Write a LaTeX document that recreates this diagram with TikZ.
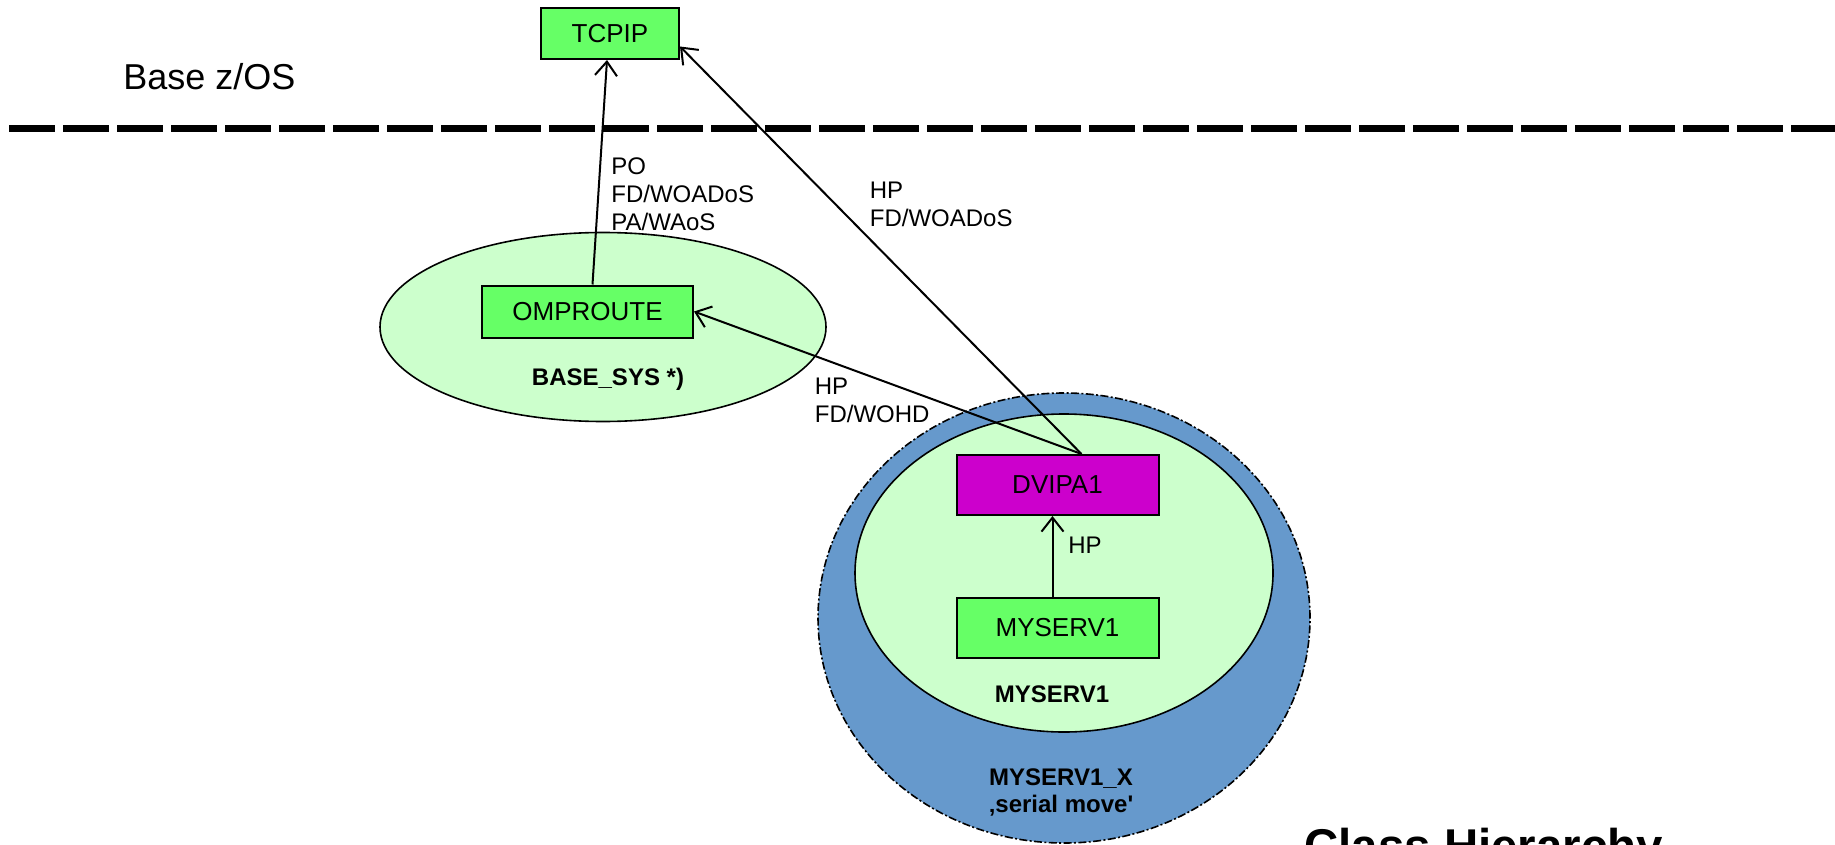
\documentclass[tikz,border=0pt]{standalone}
\usepackage{fontspec}
\setmainfont{Liberation Sans}
\usetikzlibrary{arrows.meta}
\definecolor{boxgreen}{RGB}{102,255,102}
\definecolor{palegreen}{RGB}{204,255,204}
\definecolor{dvmagenta}{RGB}{204,0,204}
\definecolor{movblue}{RGB}{102,153,204}
\tikzset{
  box/.style={draw, line width=1pt, fill=boxgreen, inner sep=0pt, font=\fontsize{13}{15}\selectfont},
  lbl/.style={anchor=north west, inner sep=0pt, align=left, font=\fontsize{12}{14}\selectfont},
  bold/.style={inner sep=0pt, align=center, font=\fontsize{12}{13.5}\selectfont\bfseries},
  arr/.style={line width=1pt, -{Straight Barb[length=7pt,width=11pt]}},
  rim/.style={line width=0.8pt},
}
\begin{document}
\begin{tikzpicture}[x=0.5pt,y=-0.5pt]
        \useasboundingbox (0,0) rectangle (1835,845);
        \draw[line width=3.5pt, dash pattern=on 23pt off 4pt] (9,129) -- (1835,129);
        \node[anchor=north west, inner sep=0pt, font=\fontsize{18}{20}\selectfont] (Z) at (123,63) {Base z/OS};

        \filldraw[rim, fill=palegreen] (603,327) ellipse (111.5pt and 47.25pt);
        \filldraw[rim, fill=movblue, dash pattern=on 4pt off 1.2pt on 1pt off 1.2pt] (1064,618) ellipse (123pt and 112.5pt);
        \filldraw[rim, fill=palegreen] (1064,573) ellipse (104.5pt and 79.5pt);

        \node[box, minimum width=69pt, minimum height=25.5pt] (T) at (610,33.5) {TCPIP};
        \node[box, minimum width=105.5pt, minimum height=26pt] (O) at (587.5,311.5) {OMPROUTE};
        \node[box, fill=dvmagenta, minimum width=101pt, minimum height=30pt] (D) at (1057.5,485) {DVIPA1};
        \node[box, minimum width=101pt, minimum height=30pt] (M) at (1057.5,628) {MYSERV1};

        \node[bold, anchor=base] (S) at (608,385) {BASE\_SYS *)};
        \node[bold, anchor=base] (N) at (1052,702) {MYSERV1};
        \node[bold, anchor=north] (X) at (1061,768) {MYSERV1\_X\\‚serial move\textquotesingle};

        \node[lbl] (L1) at (611,157) {PO\\FD/WOADoS\\PA/WAoS};
        \node[lbl] (L2) at (869.5,182) {HP\\FD/WOADoS};
        \node[lbl] (L3) at (814.5,378) {HP\\FD/WOHD};
        \node[lbl] (L4) at (1068,537) {HP};

        \draw[arr] ([xshift=2.5pt]O.north) -- ([xshift=-1.5pt]T.south);
        \draw[arr] ([xshift=12pt]D.north) -- ([yshift=-6.5pt]T.east);
        \draw[arr] ([xshift=12pt]D.north) -- (O.east);
        \draw[arr] ([xshift=-2.5pt]M.north) -- ([xshift=-2.5pt]D.south);

        \node[anchor=north west, inner sep=0pt, font=\fontsize{23.7}{26}\selectfont\bfseries] (C) at (1304,828) {Class Hierarchy};
\end{tikzpicture}
\end{document}
